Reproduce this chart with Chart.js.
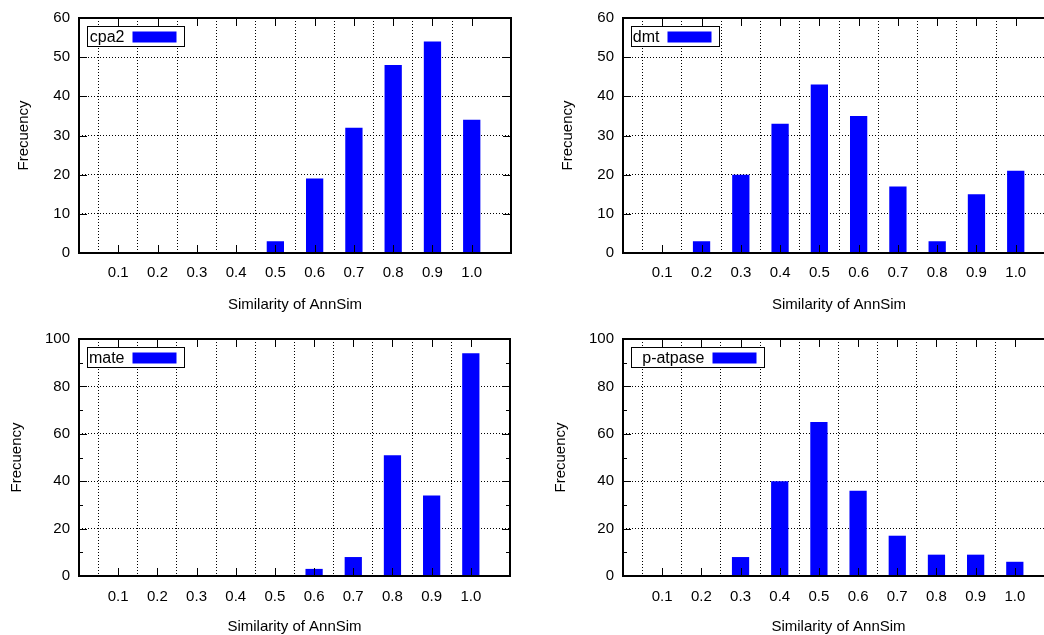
<!DOCTYPE html>
<html>
<head>
<meta charset="utf-8">
<script src="https://cdn.jsdelivr.net/npm/chart.js@4.4.1/dist/chart.umd.min.js"></script>
<style>
  html, body { margin: 0; padding: 0; background: #fff; overflow: hidden; }
  body { position: relative; width: 1044px; height: 635px; }
  .panel { position: absolute; }
  .panel canvas { display: block; }
</style>
</head>
<body>
<div class="panel" style="left:0;top:0"><canvas id="cpa2" width="522" height="317"></canvas></div>
<div class="panel" style="left:544px;top:0"><canvas id="dmt" width="522" height="317"></canvas></div>
<div class="panel" style="left:0;top:317px"><canvas id="mate" width="522" height="319"></canvas></div>
<div class="panel" style="left:544px;top:317px"><canvas id="patpase" width="522" height="319"></canvas></div>
<script>
// similarity bins (x axis), padded with an empty slot at each end like gnuplot's 0..1.1 range
const similarity = ["0.1", "0.2", "0.3", "0.4", "0.5", "0.6", "0.7", "0.8", "0.9", "1.0"];
const axisLabels = ["", ...similarity, ""];

// frequency per bin
const cpa2Counts = [0, 0, 0, 0, 3, 19, 32, 48, 54, 34];
const dmtCounts = [0, 3, 20, 33, 43, 35, 17, 3, 15, 21];
const mateCounts = [0, 0, 0, 0, 0, 3, 8, 51, 34, 94];
const patpaseCounts = [0, 0, 8, 40, 65, 36, 17, 9, 9, 6];

const BLUE = "#0000ff";
const FONT = '"Liberation Sans", Arial, Helvetica, sans-serif';

Chart.defaults.font.family = FONT;
Chart.defaults.font.size = 15;
Chart.defaults.color = "#000";

// gnuplot look: inward tics on all four sides, solid border, key box in the top-left
const gnuplotFrame = {
  id: "gnuplotFrame",
  afterDatasetsDraw(chart, args, opts) {
    const { ctx, chartArea: a, scales: { x, y } } = chart;
    const left = Math.round(a.left), right = Math.round(a.right);
    const top = Math.round(a.top), bottom = Math.round(a.bottom);
    ctx.save();
    ctx.strokeStyle = "#000";
    ctx.lineWidth = 1;
    ctx.setLineDash([]);
    ctx.beginPath();
    y.ticks.forEach((t) => {
      const py = Math.round(y.getPixelForValue(t.value)) + 0.5;
      const len = t.value % opts.major === 0 ? 8 : 4;
      ctx.moveTo(left, py); ctx.lineTo(left + len, py);
      ctx.moveTo(right, py); ctx.lineTo(right - len, py);
    });
    for (let i = 1; i <= similarity.length; i++) {
      const px = Math.round(x.getPixelForValue(i)) + 0.5;
      ctx.moveTo(px, bottom); ctx.lineTo(px, bottom - 8);
      ctx.moveTo(px, top); ctx.lineTo(px, top + 8);
    }
    ctx.stroke();

    ctx.lineWidth = 2;
    ctx.strokeRect(left, top, right - left, bottom - top);

    // key
    const label = chart.data.datasets[0].label;
    const n = label.length;
    const bx = left + 8.5, by = top + 8.5, bw = 9 * n + 61, bh = 20;
    const textRight = bx + 1 + 9 * n;
    ctx.lineWidth = 1;
    ctx.fillStyle = "#fff";
    ctx.fillRect(bx, by, bw, bh);
    ctx.strokeRect(bx, by, bw, bh);
    ctx.fillStyle = "#000";
    ctx.font = "16px " + FONT;
    ctx.textAlign = "right";
    ctx.textBaseline = "middle";
    ctx.fillText(label, textRight, by + bh / 2 + 1);
    ctx.fillStyle = BLUE;
    ctx.fillRect(textRight + 8, by + 5, 44, 11);
    ctx.restore();
  },
};

function histogram(canvasId, label, counts, yMax, yMajor, lay) {
  const lastIdx = axisLabels.length - 1;
  return new Chart(document.getElementById(canvasId), {
    type: "bar",
    data: {
      labels: axisLabels,
      datasets: [{
        label,
        data: [null, ...counts, null],
        backgroundColor: BLUE,
        borderWidth: 0,
        barPercentage: 0.44,
        categoryPercentage: 1,
      }],
    },
    options: {
      responsive: false,
      animation: false,
      events: [],
      layout: { padding: { top: lay.top, right: 11, left: 0, bottom: 0 } },
      plugins: {
        legend: { display: false },
        tooltip: { enabled: false },
        gnuplotFrame: { major: yMajor },
      },
      scales: {
        x: {
          offset: false,
          grid: {
            color: (c) => (c.index === 0 || c.index === lastIdx ? "rgba(0,0,0,0)" : "#000"),
            lineWidth: 1,
            drawTicks: false,
          },
          border: { display: false, dash: [1, 2] },
          ticks: { autoSkip: false, maxRotation: 0, padding: lay.tickPad },
          title: { display: true, text: "Similarity of AnnSim", padding: { top: 0, bottom: lay.titlePad } },
          afterFit: (s) => { s.height = lay.xHeight; },
        },
        y: {
          min: 0,
          max: yMax,
          grid: { color: (c) => (c.tick.value % yMajor === 0 ? "#000" : "rgba(0,0,0,0)"), lineWidth: 1, drawTicks: false },
          border: { display: false, dash: [1, 2] },
          ticks: { stepSize: yMajor / 2, padding: 9, callback: (v) => (v % yMajor === 0 ? v : "") },
          title: { display: true, text: "Frecuency", padding: { top: lay.yTitlePad, bottom: 0 } },
          afterFit: (s) => { s.width = 79; },
        },
      },
    },
    plugins: [gnuplotFrame],
  });
}

const topRow = { top: 15, xHeight: 64, tickPad: 11, titlePad: 3, yTitlePad: 15 };
const bottomRow = { top: 22, xHeight: 60, tickPad: 12, titlePad: 0, yTitlePad: 8 };

histogram("cpa2", "cpa2", cpa2Counts, 60, 10, topRow);
histogram("dmt", "dmt", dmtCounts, 60, 10, topRow);
histogram("mate", "mate", mateCounts, 100, 20, bottomRow);
histogram("patpase", "p-atpase", patpaseCounts, 100, 20, bottomRow);
</script>
</body>
</html>
